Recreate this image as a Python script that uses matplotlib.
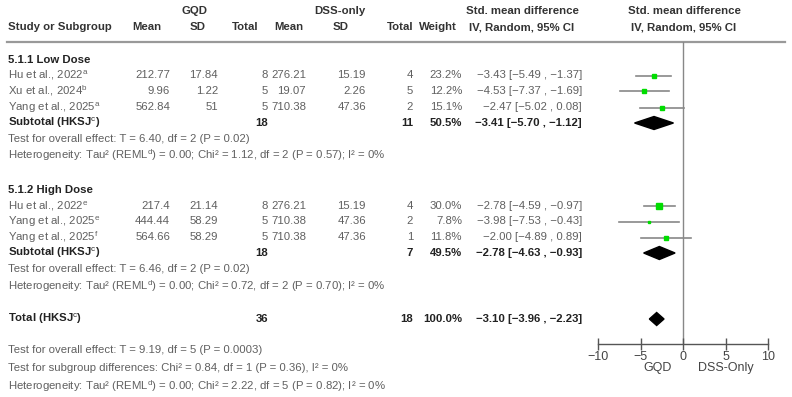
import numpy as np
import matplotlib.pyplot as plt
from matplotlib.patches import Polygon

plt.rcParams['font.family'] = ['Liberation Sans', 'DejaVu Sans']
plt.rcParams['mathtext.fontset'] = 'custom'
plt.rcParams['mathtext.rm'] = 'Liberation Sans'
plt.rcParams['mathtext.it'] = 'Liberation Sans'
plt.rcParams['mathtext.bf'] = 'Liberation Sans:bold'

# ---- data ----
low_names = ['Hu et al., 2022', 'Xu et al., 2024', 'Yang et al., 2025']
low_sup = ['a', 'b', 'a']
low_gqd_mean = [212.77, 9.96, 562.84]
low_gqd_sd = [17.84, 1.22, 51]
low_gqd_n = [8, 5, 5]
low_dss_mean = [276.21, 19.07, 710.38]
low_dss_sd = [15.19, 2.26, 47.36]
low_dss_n = [4, 5, 2]
low_weight = [23.2, 12.2, 15.1]
low_smd = [-3.43, -4.53, -2.47]
low_lo = [-5.49, -7.37, -5.02]
low_hi = [-1.37, -1.69, 0.08]
low_sub = dict(n1=18, n2=11, w=50.5, smd=-3.41, lo=-5.70, hi=-1.12)

high_names = ['Hu et al., 2022', 'Yang et al., 2025', 'Yang et al., 2025']
high_sup = ['e', 'e', 'f']
high_gqd_mean = [217.4, 444.44, 564.66]
high_gqd_sd = [21.14, 58.29, 58.29]
high_gqd_n = [8, 5, 5]
high_dss_mean = [276.21, 710.38, 710.38]
high_dss_sd = [15.19, 47.36, 47.36]
high_dss_n = [4, 2, 1]
high_weight = [30.0, 7.8, 11.8]
high_smd = [-2.78, -3.98, -2.00]
high_lo = [-4.59, -7.53, -4.89]
high_hi = [-0.97, -0.43, 0.89]
high_sub = dict(n1=18, n2=7, w=49.5, smd=-2.78, lo=-4.63, hi=-0.93)

total = dict(n1=36, n2=18, w=100.0, smd=-3.10, lo=-3.96, hi=-2.23)

low_notes = ['Test for overall effect: T = 6.40, df = 2 (P = 0.02)',
             'Heterogeneity: Tau² (REML$^{\\mathrm{d}}$) = 0.00; Chi² = 1.12, df = 2 (P = 0.57); I² = 0%']
high_notes = ['Test for overall effect: T = 6.46, df = 2 (P = 0.02)',
              'Heterogeneity: Tau² (REML$^{\\mathrm{d}}$) = 0.00; Chi² = 0.72, df = 2 (P = 0.70); I² = 0%']
total_notes = ['Test for overall effect: T = 9.19, df = 5 (P = 0.0003)',
               'Test for subgroup differences: Chi² = 0.84, df = 1 (P = 0.36), I² = 0%',
               'Heterogeneity: Tau² (REML$^{\\mathrm{d}}$) = 0.00; Chi² = 2.22, df = 5 (P = 0.82); I² = 0%']

ticks = [-10, -5, 0, 5, 10]

# ---- layout (pixels) ----
W, H = 792, 397
FS = 8.2
GREY = '#606060'
DARK = '#333333'

fig = plt.figure(figsize=(W / 100, H / 100), dpi=100)
ax = fig.add_axes([0, 0, 1, 1])
ax.set_xlim(0, W)
ax.set_ylim(H, 0)
ax.axis('off')

# forest axes: x in SMD units, y in pixel rows
fx0, fx1, fy0, fy1 = 598, 768, 42, 344
axf = fig.add_axes([fx0 / W, 1 - fy1 / H, (fx1 - fx0) / W, (fy1 - fy0) / H])
axf.set_xlim(-10, 10)
axf.set_ylim(fy1, fy0)
axf.patch.set_alpha(0)
for s in ['top', 'left', 'right']:
    axf.spines[s].set_visible(False)
axf.spines['bottom'].set_color('#555555')
axf.spines['bottom'].set_linewidth(1.0)
axf.set_yticks([])
axf.set_xticks(ticks)
axf.set_xticklabels([str(t).replace('-', '\u2212') for t in ticks])
axf.tick_params(axis='x', direction='inout', length=8, width=1.0, color='#555555',
                labelsize=9, labelcolor='#444444', pad=1)
axf.axvline(0, color='#888888', lw=1.0, zorder=1)
axf.text(-3, fy1 + 24, 'GQD', ha='center', va='center', fontsize=9, color='#444444')
axf.text(5, fy1 + 24, 'DSS-Only', ha='center', va='center', fontsize=9, color='#444444')

# columns
c_name = 8
c_gm, c_gs, c_gn = 170, 218, 268
c_dm, c_ds, c_dn = 306, 366, 413
c_w, c_ci = 462, 582


def minus(s):
    return s.replace('-', '\u2212')


def ci_text(m, lo, hi):
    return minus(f'{m:.2f} [{lo:.2f} , {hi:.2f}]')


def txt(x, y, s, ha='left', bold=False, color=GREY, size=FS):
    ax.text(x, y, s, ha=ha, va='center', fontsize=size,
            fontweight='bold' if bold else 'normal', color=color)


# headers
txt(195, 11, 'GQD', 'center', True, DARK)
txt(340, 11, 'DSS-only', 'center', True, DARK)
txt(522, 11, 'Std. mean difference', 'center', True, DARK)
txt(684, 11, 'Std. mean difference', 'center', True, DARK)
txt(c_name, 27, 'Study or Subgroup', 'left', True, DARK)
for x, s in [(147, 'Mean'), (198, 'SD'), (245, 'Total'), (289, 'Mean'),
             (341, 'SD'), (400, 'Total'), (438, 'Weight'),
             (522, 'IV, Random, 95% CI'), (684, 'IV, Random, 95% CI')]:
    txt(x, 27, s, 'center', True, DARK)
ax.plot([7, 785], [42, 42], color='#999999', lw=1.6)


def group(title, ytitle, rows_y, names, sups, gm, gs, gn, dm, ds, dn, w, smd, lo, hi,
          sub, ysub, notes, ynotes):
    txt(c_name, ytitle, title, bold=True, color='#222222')
    for i, y in enumerate(rows_y):
        txt(c_name, y, names[i] + '$^{\\mathrm{' + sups[i] + '}}$')
        txt(c_gm, y, f'{gm[i]}', 'right')
        txt(c_gs, y, f'{gs[i]}', 'right')
        txt(c_gn, y, f'{gn[i]}', 'right')
        txt(c_dm, y, f'{dm[i]}', 'right')
        txt(c_ds, y, f'{ds[i]}', 'right')
        txt(c_dn, y, f'{dn[i]}', 'right')
        txt(c_w, y, f'{w[i]:.1f}%', 'right')
        txt(c_ci, y, ci_text(smd[i], lo[i], hi[i]), 'right')
        axf.plot([lo[i], hi[i]], [y, y], color='#888888', lw=1.2, zorder=2)
        axf.plot(smd[i], y, marker='s', color='#00dd00', mec='#00dd00',
                 ms=0.95 * np.sqrt(w[i]) * 0.72, zorder=3)
    if sub is not None:
        summary(sub, ysub, 'Subtotal (HKSJ$^{\\mathrm{c}}$)')
    for s, y in zip(notes, ynotes):
        txt(c_name, y, s)


def summary(d, y, label):
    txt(c_name, y, label, bold=True, color='#222222')
    txt(c_gn, y, f"{d['n1']}", 'right', True, '#222222')
    txt(c_dn, y, f"{d['n2']}", 'right', True, '#222222')
    txt(c_w, y, f"{d['w']:.1f}%", 'right', True, '#222222')
    txt(c_ci, y, ci_text(d['smd'], d['lo'], d['hi']), 'right', True, '#222222')
    h = 6.5
    axf.add_patch(Polygon([(d['lo'], y), (d['smd'], y - h), (d['hi'], y), (d['smd'], y + h)],
                          closed=True, color='black', zorder=3))


group('5.1.1 Low Dose', 60, [75.5, 91, 107.5], low_names, low_sup,
      low_gqd_mean, low_gqd_sd, low_gqd_n, low_dss_mean, low_dss_sd, low_dss_n,
      low_weight, low_smd, low_lo, low_hi, low_sub, 123, low_notes, [139, 155])
group('5.1.2 High Dose', 190, [206, 221.5, 237.5], high_names, high_sup,
      high_gqd_mean, high_gqd_sd, high_gqd_n, high_dss_mean, high_dss_sd, high_dss_n,
      high_weight, high_smd, high_lo, high_hi, high_sub, 253, high_notes, [269, 286])
summary(total, 319, 'Total (HKSJ$^{\\mathrm{c}}$)')
for s, y in zip(total_notes, [350, 368, 386]):
    txt(c_name, y, s)

fig.savefig('out.png', dpi=100)
